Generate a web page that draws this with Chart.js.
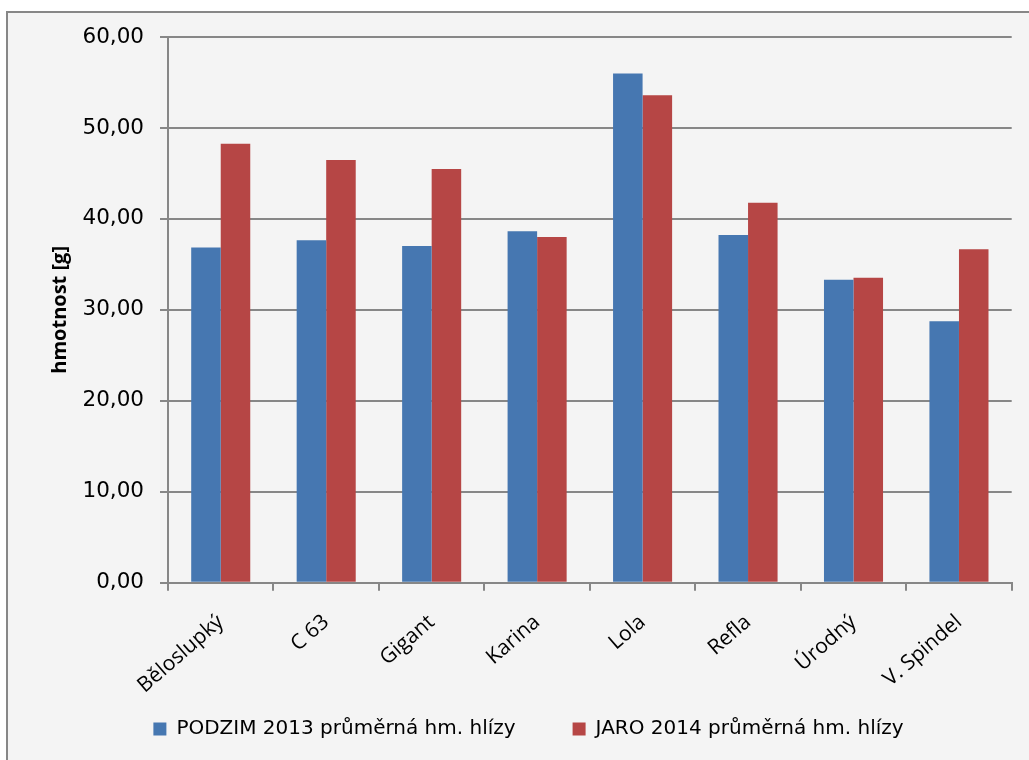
<!DOCTYPE html>
<html lang="cs">
<head>
<meta charset="utf-8">
<title>Průměrná hmotnost hlízy</title>
<script src="https://cdn.jsdelivr.net/npm/chart.js@4/dist/chart.umd.min.js"></script>
<style>
  html, body { margin: 0; padding: 0; background: #ffffff; }
  canvas { display: block; }
</style>
</head>
<body>
<canvas id="chart" width="1029" height="760"></canvas>
<script>
// Odrůdy (kategorie na ose x)
const odrudy = ['Běloslupký', 'C 63', 'Gigant', 'Karina', 'Lola', 'Refla', 'Úrodný', 'V. Spindel'];

// Názvy řad
const nazevPodzim = 'PODZIM 2013 průměrná hm. hlízy';
const nazevJaro = 'JARO 2014 průměrná hm. hlízy';

// Průměrná hmotnost hlízy [g]
const podzim2013 = [36.85, 37.65, 37.03, 38.64, 55.98, 38.24, 33.30, 28.76];
const jaro2014 = [48.26, 46.47, 45.48, 38.02, 53.60, 41.78, 33.52, 36.66];

// Osa y
const osaYMin = 0;
const osaYMax = 60;
const osaYKrok = 10;
const osaYNazev = 'hmotnost [g]';

const SEDA = '#878787';

// Šedé pozadí grafu s rámečkem
const pozadi = {
  id: 'pozadi',
  beforeDraw(chart) {
    const ctx = chart.ctx;
    ctx.save();
    ctx.fillStyle = '#ffffff';
    ctx.fillRect(0, 0, chart.width, chart.height);
    ctx.fillStyle = '#f4f4f4';
    ctx.fillRect(7, 12, chart.width - 7, chart.height - 12);
    ctx.strokeStyle = SEDA;
    ctx.lineWidth = 2;
    ctx.beginPath();
    ctx.moveTo(7, chart.height + 2);
    ctx.lineTo(7, 12);
    ctx.lineTo(chart.width + 2, 12);
    ctx.stroke();
    ctx.restore();
  }
};

new Chart(document.getElementById('chart'), {
  type: 'bar',
  data: {
    labels: odrudy,
    datasets: [
      { label: nazevPodzim, data: podzim2013, backgroundColor: '#4677b1', borderWidth: 0 },
      { label: nazevJaro, data: jaro2014, backgroundColor: '#b64645', borderWidth: 0 }
    ]
  },
  options: {
    responsive: false,
    devicePixelRatio: 1,
    animation: false,
    categoryPercentage: 0.56,
    barPercentage: 1.0,
    layout: { padding: { left: 45.3, right: 17.3, top: 37, bottom: 11 } },
    plugins: {
      tooltip: { enabled: false },
      legend: {
        position: 'bottom',
        align: 'center',
        labels: {
          boxWidth: 13,
          boxHeight: 13,
          padding: 57,
          color: '#000000',
          font: { family: 'DejaVu Sans', size: 20 }
        }
      }
    },
    scales: {
      x: {
        offset: true,
        grid: {
          display: true,
          drawOnChartArea: false,
          drawTicks: true,
          tickLength: 8,
          color: SEDA,
          lineWidth: 2,
          offset: true
        },
        border: { display: true, color: SEDA, width: 2 },
        ticks: {
          minRotation: 41,
          maxRotation: 41,
          autoSkip: false,
          padding: 19,
          color: '#000000',
          font: { family: 'Open Sans', size: 21 }
        },
        afterFit(scale) {
          scale.height = 79.3;
          // popisky kategorií přesahují do oblasti legendy, neořezávat je
          scale._computeLabelArea = () => undefined;
        }
      },
      y: {
        min: osaYMin,
        max: osaYMax,
        grid: {
          color: SEDA,
          lineWidth: 2,
          tickLength: 8,
          drawTicks: true
        },
        border: { display: true, color: SEDA, width: 2 },
        ticks: {
          stepSize: osaYKrok,
          padding: 16,
          color: '#000000',
          font: { family: 'DejaVu Sans', size: 21.5 },
          callback: (v) => Number(v).toFixed(2).replace('.', ',')
        },
        title: {
          display: true,
          text: osaYNazev,
          color: '#000000',
          font: { family: 'Open Sans', size: 20, weight: 'bold' },
          padding: { top: 2.7, bottom: 0 }
        },
        afterFit(scale) { scale.width = 122.7; }
      }
    }
  },
  plugins: [pozadi]
});
</script>
</body>
</html>
